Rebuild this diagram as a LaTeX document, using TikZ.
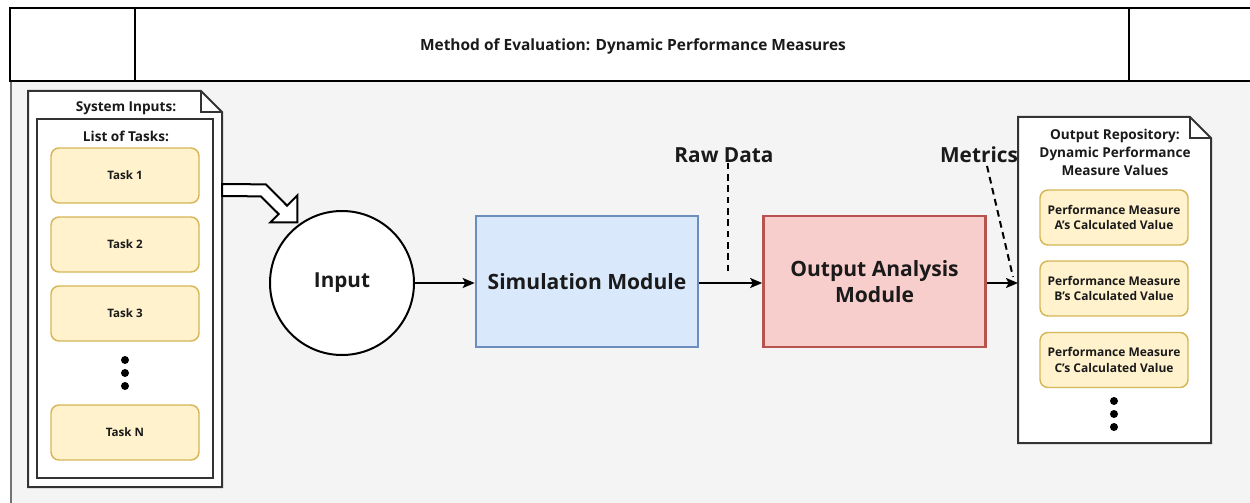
\documentclass[tikz,border=0pt]{standalone}
\usepackage{fontspec}
\setmainfont{Open Sans}
\usetikzlibrary{arrows.meta,calc}

\definecolor{canvas}{HTML}{F4F4F4}
\definecolor{taskfill}{HTML}{FFF2CC}
\definecolor{taskline}{HTML}{D6B656}
\definecolor{simfill}{HTML}{DAE8FC}
\definecolor{simline}{HTML}{6C8EBF}
\definecolor{oamfill}{HTML}{F8CECC}
\definecolor{oamline}{HTML}{B85450}
\definecolor{ink}{HTML}{1A1A1A}
\definecolor{docink}{HTML}{333333}

\tikzset{
  frameline/.style={draw=black, line width=1.5pt},
  holder/.style={inner sep=0pt, outer sep=0pt},
  docline/.style={draw=docink, line width=1.5pt, fill=white, line join=miter},
  doctitle/.style={font=\bfseries\fontsize{10.2}{13.5}\selectfont, text=ink, align=center, inner sep=0pt},
  taskbox/.style={draw=taskline, fill=taskfill, line width=1.1pt, rounded corners=6pt,
    minimum width=111pt, minimum height=41.25pt, inner sep=0pt,
    font=\bfseries\fontsize{8.7}{11}\selectfont, text=ink, align=center},
  measurebox/.style={taskbox, font=\bfseries\fontsize{9}{11.4}\selectfont},
  dotmark/.style={circle, fill=black, minimum size=6pt, inner sep=0pt},
  module/.style={line width=2pt, minimum width=166.5pt, minimum height=98.25pt, inner sep=0pt,
    font=\bfseries\fontsize{15.8}{19.5}\selectfont, text=ink, align=center},
  flow/.style={draw=black, line width=1.5pt, -{Stealth[length=9pt,width=7.5pt,inset=2pt]}},
  callout/.style={font=\bfseries\fontsize{15.6}{18}\selectfont, text=ink, inner sep=0pt},
  calloutline/.style={draw=black, line width=1.5pt, dash pattern=on 5pt off 3.5pt},
  fatarrow/.style={draw=black, fill=white, line width=1.5pt, line join=miter}
}

\begin{document}
\begin{tikzpicture}[x=0.75pt, y=-0.75pt]
\useasboundingbox (0,0) rectangle (1250,503);
\fill[white] (0,0) rectangle (1250,503);

% diagram body
\fill[canvas] (10,81) rectangle (1255,508);
\draw[draw=gray!90!black, line width=2pt] (11,81) -- (11,508);

% header row
\draw[frameline, fill=white] (10,8) rectangle (1260,81);
\draw[frameline] (135,8) -- (135,81);
\draw[frameline] (1129,8) -- (1129,81);
\node[font=\bfseries\fontsize{11.6}{14}\selectfont, text=ink] (title) at (633,46)
  {Method of Evaluation: Dynamic Performance Measures};

% system inputs document
\node[holder, minimum width=145.5pt, minimum height=297pt] (sysin) at (125,289) {};
\draw[docline] (sysin.north west) -- ([xshift=-15.75pt]sysin.north east)
  -- ([yshift=-15.75pt]sysin.north east) -- (sysin.south east) -- (sysin.south west) -- cycle;
\draw[docline, fill=none] ([xshift=-15.75pt]sysin.north east) -- ([xshift=-15.75pt,yshift=-15.75pt]sysin.north east)
  -- ([yshift=-15.75pt]sysin.north east);
\node[doctitle] (sysintitle) at (126,108) {System Inputs:};

% list of tasks
\node[holder, minimum width=132pt, minimum height=269.25pt] (tasklist) at (125,298.5) {};
\draw[docline] (tasklist.north west) rectangle (tasklist.south east);
\node[doctitle] (tasklisttitle) at (126,136) {List of Tasks:};

\node[taskbox] (t1) at (125,175.5) {Task 1};
\node[taskbox] (t2) at (125,244.5) {Task 2};
\node[taskbox] (t3) at (125,313.5) {Task 3};
\node[dotmark] (ld1) at (125,360) {};
\node[dotmark] (ld2) at (125,373) {};
\node[dotmark] (ld3) at (125,386) {};
\node[taskbox] (tn) at (125,432.5) {Task N};

% processing chain
\node[circle, draw=black, fill=white, line width=1.5pt, minimum size=108pt, inner sep=0pt,
  font=\bfseries\fontsize{15.5}{18}\selectfont, text=ink] (inp) at (342,283) {Input};
\node[module, draw=simline, fill=simfill] (sim) at (587,281.5) {Simulation Module};
\node[module, draw=oamline, fill=oamfill] (oam) at (874.5,281.5) {Output Analysis\\Module};

% output repository document
\node[holder, minimum width=144.75pt, minimum height=244.5pt] (repo) at (1114.5,280) {};
\draw[docline] (repo.north west) -- ([xshift=-15.75pt]repo.north east)
  -- ([yshift=-15.75pt]repo.north east) -- (repo.south east) -- (repo.south west) -- cycle;
\draw[docline, fill=none] ([xshift=-15.75pt]repo.north east) -- ([xshift=-15.75pt,yshift=-15.75pt]repo.north east)
  -- ([yshift=-15.75pt]repo.north east);
\node[doctitle] (repotitle) at (1115,152) {Output Repository:\\Dynamic Performance\\Measure Values};

\node[measurebox] (pa) at (1114,217.5) {Performance Measure\\A's Calculated Value};
\node[measurebox] (pb) at (1114,288.5) {Performance Measure\\B's Calculated Value};
\node[measurebox] (pc) at (1114,360) {Performance Measure\\C's Calculated Value};
\node[dotmark] (rd1) at (1114,401) {};
\node[dotmark] (rd2) at (1114,414) {};
\node[dotmark] (rd3) at (1114,427) {};

% connectors, all on the axis of the input circle
\draw[flow] (inp.east) -- (sim.west |- inp.east);
\draw[flow] (sim.east |- inp.east) -- (oam.west |- inp.east);
\draw[flow] (oam.east |- inp.east) -- (repo.west |- inp.east);

% broad arrow from the task list into the input
\coordinate (fatStart) at (sysin.east |- 0,190);
\coordinate (fatTip) at ([shift={(7,-9)}]inp.135);
\draw[fatarrow]
  ([shift={(0,-6)}]fatStart) -- ([shift={(-31.5,-38)}]fatTip)
  -- ([shift={(-10.3,-16.7)}]fatTip) -- ([shift={(0,-27)}]fatTip)
  -- (fatTip) -- ([shift={(-27,0)}]fatTip)
  -- ([shift={(-18.7,-8.3)}]fatTip) -- ([shift={(-36.5,-26)}]fatTip)
  -- ([shift={(0,6)}]fatStart) -- cycle;

% callouts
\node[callout] (rawlbl) at (724,155) {Raw Data};
\coordinate (rawend) at (728,272);
\draw[calloutline] (rawlbl.south -| rawend) -- (rawend);

\node[callout] (metlbl) at (979,155) {Metrics};
\coordinate (metend) at (1013,277);
\draw[calloutline] ([xshift=6pt,yshift=-2pt]metlbl.south) -- (metend);
\end{tikzpicture}
\end{document}
